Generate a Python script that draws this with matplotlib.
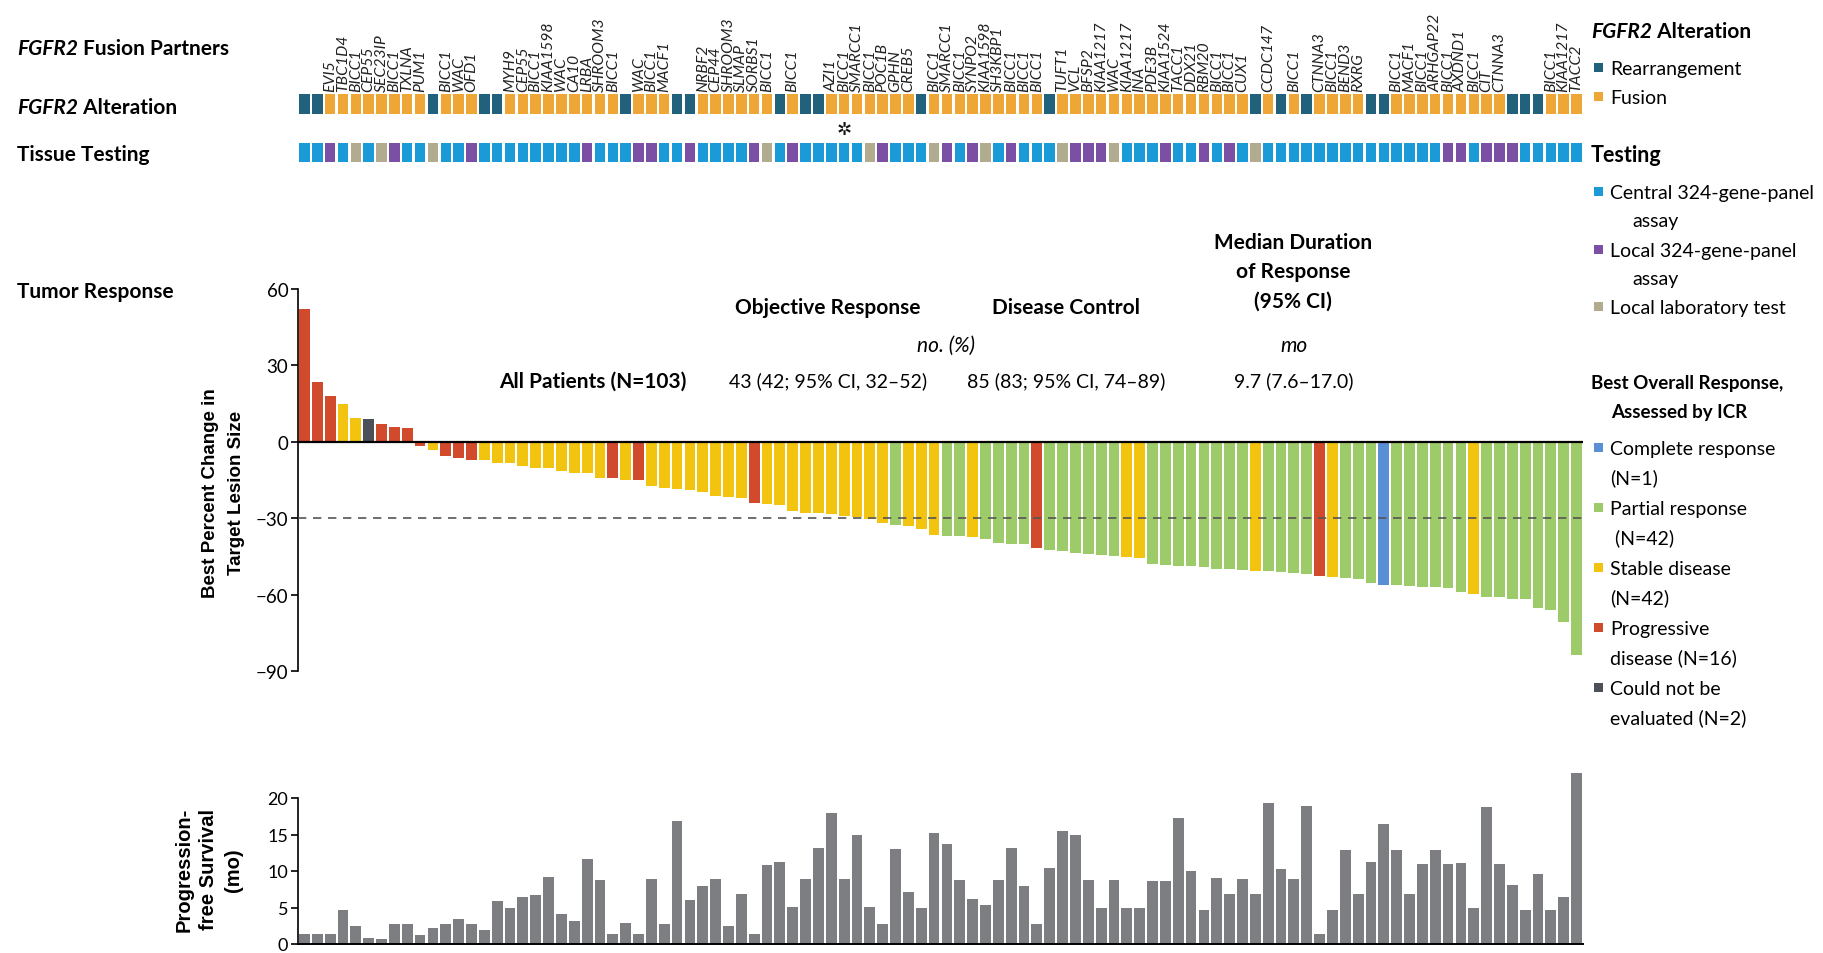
import matplotlib
matplotlib.use("Agg")
import matplotlib.pyplot as plt
from matplotlib.patches import Rectangle

plt.rcParams['font.family'] = ['Lato', 'DejaVu Sans']

# ---------------- data ----------------
fusion_partners = [
    "", "", "EVI5", "TBC1D4", "BICC1", "CEP55", "SEC23IP", "BICC1", "TXLNA", "PUM1",
    "", "BICC1", "WAC", "OFD1", "", "", "MYH9", "CEP55", "BICC1", "KIAA1598",
    "WAC", "CA10", "LRBA", "SHROOM3", "BICC1", "", "WAC", "BICC1", "MACF1", "",
    "", "NRBF2", "CEP44", "SHROOM3", "SLMAP", "SORBS1", "BICC1", "", "BICC1", "",
    "", "AZI1", "BICC1", "SMARCC1", "BICC1", "POC1B", "GPHN", "CREB5", "", "BICC1",
    "SMARCC1", "BICC1", "SYNPO2", "KIAA1598", "SH3KBP1", "BICC1", "BICC1", "BICC1", "", "TUFT1",
    "VCL", "BFSP2", "KIAA1217", "WAC", "KIAA1217", "INA", "PDE3B", "KIAA1524", "TACC1", "DDX21",
    "RBM20", "BICC1", "BICC1", "CUX1", "", "CCDC147", "", "BICC1", "", "CTNNA3",
    "BICC1", "BEND3", "RXRG", "", "", "BICC1", "MACF1", "BICC1", "ARHGAP22", "BICC1",
    "AXDND1", "BICC1", "CIT", "CTNNA3", "", "", "", "BICC1", "KIAA1217", "TACC2",
]

alteration = [
    "R", "R", "F", "F", "F", "F", "F", "F", "F", "F",
    "R", "F", "F", "F", "R", "R", "F", "F", "F", "F",
    "F", "F", "F", "F", "F", "R", "F", "F", "F", "R",
    "R", "F", "F", "F", "F", "F", "F", "R", "F", "R",
    "R", "F", "F", "F", "F", "F", "F", "F", "R", "F",
    "F", "F", "F", "F", "F", "F", "F", "F", "R", "F",
    "F", "F", "F", "F", "F", "F", "F", "F", "F", "F",
    "F", "F", "F", "F", "R", "F", "R", "F", "R", "F",
    "F", "F", "F", "R", "R", "F", "F", "F", "F", "F",
    "F", "F", "F", "F", "R", "R", "R", "F", "F", "F",
]

# C = central 324-gene panel, L = local 324-gene panel, T = local laboratory test
testing = [
    "C", "C", "L", "C", "T", "C", "T", "L", "C", "C",
    "T", "C", "C", "L", "C", "C", "C", "C", "C", "C",
    "C", "C", "L", "C", "C", "C", "L", "L", "C", "C",
    "L", "C", "C", "C", "C", "L", "T", "C", "L", "C",
    "C", "C", "C", "C", "T", "L", "C", "C", "C", "T",
    "L", "C", "L", "T", "C", "L", "C", "C", "C", "T",
    "L", "L", "L", "T", "C", "C", "C", "L", "C", "C",
    "L", "C", "L", "C", "T", "C", "C", "C", "C", "C",
    "C", "C", "C", "C", "C", "C", "C", "C", "C", "L",
    "L", "C", "L", "L", "L", "C", "C", "C", "C", "C",
]

response = [
    "PD", "PD", "PD", "SD", "SD", "NE", "PD", "PD", "PD", "PD",
    "SD", "PD", "PD", "PD", "SD", "SD", "SD", "SD", "SD", "SD",
    "SD", "SD", "SD", "SD", "PD", "SD", "PD", "SD", "SD", "SD",
    "SD", "SD", "SD", "SD", "SD", "PD", "SD", "SD", "SD", "SD",
    "SD", "SD", "SD", "SD", "SD", "SD", "PR", "SD", "SD", "SD",
    "PR", "PR", "SD", "PR", "PR", "PR", "PR", "PD", "PR", "PR",
    "PR", "PR", "PR", "PR", "SD", "SD", "PR", "PR", "PR", "PR",
    "PR", "PR", "PR", "PR", "SD", "PR", "PR", "PR", "PR", "PD",
    "SD", "PR", "PR", "PR", "CR", "PR", "PR", "PR", "PR", "PR",
    "PR", "SD", "PR", "PR", "PR", "PR", "PR", "PR", "PR", "PR",
]

best_change = [
    52.2, 23.5, 17.9, 14.9, 9.4, 9.0, 6.8, 5.7, 5.3, -1.6,
    -3.3, -5.5, -6.5, -7.3, -7.3, -8.2, -8.2, -9.5, -10.2, -10.2,
    -11.6, -12.1, -12.1, -14.1, -14.1, -15.0, -15.0, -17.3, -18.0, -18.5,
    -18.8, -19.9, -21.4, -21.6, -22.0, -24.0, -24.3, -24.9, -27.0, -27.8,
    -28.0, -28.3, -29.2, -29.6, -30.5, -31.8, -32.6, -33.1, -34.4, -36.5,
    -36.8, -36.8, -37.3, -38.1, -39.6, -40.0, -40.3, -41.6, -42.6, -42.9,
    -43.7, -44.2, -44.5, -44.9, -45.2, -45.6, -48.1, -48.5, -48.6, -48.9,
    -49.2, -49.9, -49.9, -50.2, -50.7, -50.7, -51.2, -51.5, -51.8, -52.7,
    -53.1, -53.5, -53.8, -55.4, -56.3, -56.3, -56.5, -57.0, -57.2, -57.5,
    -58.9, -59.8, -60.9, -61.1, -61.7, -61.9, -65.4, -66.1, -70.7, -83.7,
]

pfs_months = [
    1.4, 1.4, 1.4, 4.7, 2.5, 0.8, 0.7, 2.8, 2.8, 1.2,
    2.2, 2.7, 3.4, 2.8, 1.9, 5.9, 4.9, 6.5, 6.7, 9.2,
    4.1, 3.1, 11.6, 8.8, 1.4, 2.9, 1.4, 8.9, 2.8, 16.9,
    6.0, 7.9, 8.9, 2.4, 6.9, 1.4, 10.8, 11.3, 5.1, 8.9,
    13.1, 18.0, 8.9, 15.0, 5.1, 2.8, 13.0, 7.1, 4.9, 15.2,
    13.7, 8.8, 6.1, 5.4, 8.8, 13.2, 7.9, 2.7, 10.4, 15.5,
    15.0, 8.8, 4.9, 8.8, 4.9, 4.9, 8.6, 8.6, 17.3, 10.0,
    4.7, 9.1, 6.9, 8.9, 6.9, 19.3, 10.3, 8.9, 18.9, 1.4,
    4.7, 12.9, 6.9, 11.2, 16.5, 12.9, 6.9, 11.0, 12.9, 10.9,
    11.1, 4.9, 18.8, 11.0, 8.1, 4.7, 9.6, 4.7, 6.5, 23.4,
]

alt_colors = {"R": "#21617C", "F": "#EEA737"}
test_colors = {"C": "#1A9AD6", "L": "#7B4FA3", "T": "#B1AB90"}
resp_colors = {"CR": "#5A8ED5", "PR": "#9DCB6A", "SD": "#F2C40F",
               "PD": "#D24A2C", "NE": "#4B5059"}
pfs_color = "#7D7E81"

# ---------------- figure ----------------
W, H = 1824, 954
fig = plt.figure(figsize=(W / 100, H / 100), dpi=100)
renderer = fig.canvas.get_renderer()


def fx(px):
    return px / W


def fy(py):
    return 1 - py / H


n = len(best_change)
xs = list(range(n))
x_left, x_right = 298, 1583
XL = (-0.5, n - 0.5)
ARIAL = ['Liberation Sans', 'DejaVu Sans']

# ---------------- top rows ----------------
ax_top = fig.add_axes([fx(x_left), fy(170), fx(x_right) - fx(x_left), 170 / H])
ax_top.set_xlim(*XL)
ax_top.set_ylim(170, 0)
ax_top.axis("off")
ax_top.bar(xs, [20] * n, bottom=95, width=0.82,
           color=[alt_colors[a] for a in alteration], linewidth=0)
ax_top.bar(xs, [19] * n, bottom=144, width=0.82,
           color=[test_colors[t] for t in testing], linewidth=0)
for i, lab in enumerate(fusion_partners):
    if lab:
        ax_top.text(i, 92, lab, rotation=90, ha="center", va="bottom",
                    fontsize=11.3, style="italic", color="#222222")
ax_top.text(42, 130, "\u2732", ha="center", va="center", fontsize=13,
            family="DejaVu Sans", color="#111111")

# ---------------- waterfall ----------------
ax_w = fig.add_axes([fx(x_left), fy(672), fx(x_right) - fx(x_left), (672 - 290) / H])
ax_w.set_xlim(*XL)
ax_w.set_ylim(-90, 60)
ax_w.bar(xs, best_change, width=0.84,
         color=[resp_colors[r] for r in response], linewidth=0, zorder=2)
ax_w.axhline(0, color="black", lw=1.6, zorder=3)
ax_w.axhline(-30, color="#555555", lw=1.2, ls=(0, (5, 4)), zorder=3)
for s in ["top", "right", "bottom"]:
    ax_w.spines[s].set_visible(False)
ax_w.spines["left"].set_linewidth(1.2)
ax_w.set_xticks([])
ax_w.set_yticks([60, 30, 0, -30, -60, -90])
ax_w.tick_params(axis="y", direction="out", length=5, width=1.2, labelsize=13.5, pad=2)

# ---------------- PFS ----------------
pfs_top = 24
pfs_base = 945
pfs_scale = 7.3
ax_p = fig.add_axes([fx(x_left), fy(pfs_base), fx(x_right) - fx(x_left),
                     pfs_top * pfs_scale / H])
ax_p.set_xlim(*XL)
ax_p.set_ylim(0, pfs_top)
ax_p.bar(xs, pfs_months, width=0.84, color=pfs_color, linewidth=0)
for s in ["top", "right"]:
    ax_p.spines[s].set_visible(False)
ax_p.spines["left"].set_bounds(0, 20)
ax_p.spines["left"].set_linewidth(1.2)
ax_p.spines["bottom"].set_linewidth(1.4)
ax_p.set_xticks([])
ax_p.set_yticks([0, 5, 10, 15, 20])
ax_p.tick_params(axis="y", direction="out", length=5, width=1.2, labelsize=13, pad=2)


# ---------------- text helpers ----------------
def rich(x_px, y_px, parts, size):
    x = x_px
    for s, kw in parts:
        t = fig.text(fx(x), fy(y_px), s, fontsize=size, ha="left",
                     va="center_baseline", **kw)
        x += t.get_window_extent(renderer).width
    return x


def txt(x_px, y_px, s, size, ha="center", **kw):
    return fig.text(fx(x_px), fy(y_px), s, fontsize=size, ha=ha,
                    va="center_baseline", **kw)


# left row labels
rich(17, 47, [("FGFR2", dict(style="italic", weight="bold")),
              (" Fusion Partners", dict(weight="bold"))], 15)
rich(17, 106, [("FGFR2", dict(style="italic", weight="bold")),
               (" Alteration", dict(weight="bold"))], 15)
rich(17, 153, [("Tissue Testing", dict(weight="bold"))], 15)
rich(17, 290, [("Tumor Response", dict(weight="bold"))], 15)

# y labels
fig.text(fx(211), fy(493), "Best Percent Change in", rotation=90, fontsize=13.5,
         weight="bold", ha="center", va="center", family=ARIAL)
fig.text(fx(237), fy(493), "Target Lesion Size", rotation=90, fontsize=13.5,
         weight="bold", ha="center", va="center", family=ARIAL)
for xx, s in [(184, "Progression-"), (209, "free Survival"), (234, "(mo)")]:
    fig.text(fx(xx), fy(870), s, rotation=90, fontsize=14.5, weight="bold",
             ha="center", va="center", family=ARIAL)

# response summary
txt(828, 306, "Objective Response", 15, weight="bold")
txt(1066, 306, "Disease Control", 15, weight="bold")
txt(1293, 241, "Median Duration", 15, weight="bold")
txt(1293, 270, "of Response", 15, weight="bold")
txt(1293, 300, "(95% CI)", 15, weight="bold")
txt(946, 344, "no. (%)", 15, style="italic")
txt(1294, 344, "mo", 15, style="italic")
txt(593, 380, "All Patients (N=103)", 15, weight="bold")
txt(828, 380, "43 (42; 95% CI, 32\u201352)", 14)
txt(1066, 380, "85 (83; 95% CI, 74\u201389)", 14)
txt(1294, 380, "9.7 (7.6\u201317.0)", 14)

# ---------------- legend ----------------
LX = 1591
SQX = 1594
TX = 1610
LS = 14


def sq(y_px, color):
    fig.add_artist(Rectangle((fx(SQX), fy(y_px + 4.5)), 9 / W, 9 / H,
                             transform=fig.transFigure, color=color, lw=0))


rich(LX, 30, [("FGFR2", dict(style="italic", weight="bold")),
              (" Alteration", dict(weight="bold"))], 15)
sq(68, alt_colors["R"]); txt(TX, 68, "Rearrangement", LS, ha="left")
sq(97, alt_colors["F"]); txt(TX, 97, "Fusion", LS, ha="left")

txt(LX, 154, "Testing", 15.5, ha="left", weight="bold")
sq(192, test_colors["C"]); txt(TX, 192, "Central 324-gene-panel", LS, ha="left")
txt(1632, 220, "assay", LS, ha="left")
sq(250, test_colors["L"]); txt(TX, 250, "Local 324-gene-panel", LS, ha="left")
txt(1632, 278, "assay", LS, ha="left")
sq(307, test_colors["T"]); txt(TX, 307, "Local laboratory test", LS, ha="left")

txt(LX, 382, "Best Overall Response,", 13.5, ha="left", weight="bold")
txt(1611, 411, "Assessed by ICR", 13.5, ha="left", weight="bold")
legend_items = [
    ("CR", "Complete response", "(N=1)", 448),
    ("PR", "Partial response", " (N=42)", 508),
    ("SD", "Stable disease", "(N=42)", 568),
    ("PD", "Progressive", "disease (N=16)", 628),
    ("NE", "Could not be", "evaluated (N=2)", 688),
]
for code, l1, l2, yy in legend_items:
    sq(yy, resp_colors[code])
    txt(TX, yy, l1, LS, ha="left")
    txt(TX, yy + 29, l2, LS, ha="left")

fig.savefig("out.png", dpi=100)
